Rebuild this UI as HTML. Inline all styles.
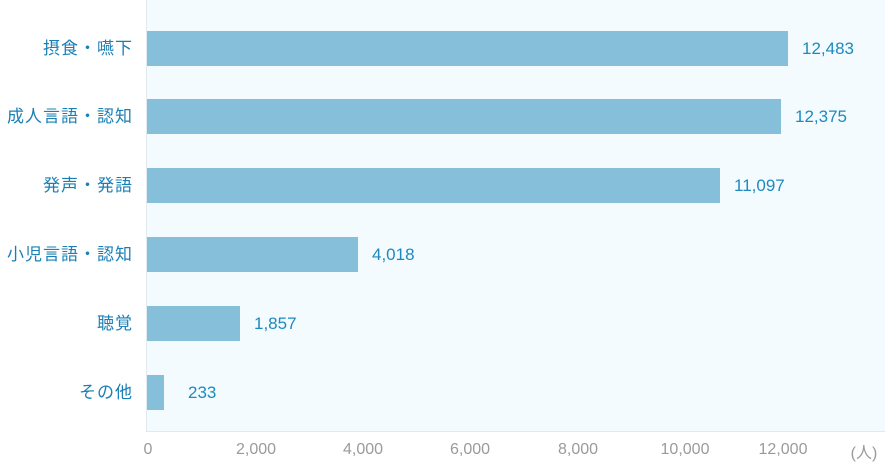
<!DOCTYPE html>
<html><head><meta charset="utf-8"><style>
body{margin:0;width:885px;height:458px;background:#fff;position:relative;overflow:hidden;font-family:"Liberation Sans","Noto Sans CJK JP",sans-serif}
.plot{position:absolute;left:146px;top:0;width:739px;height:432px;background:#f4fbfe;border-left:1px solid #e3eaee;border-bottom:1px solid #e3eaee;box-sizing:border-box}
.bar{position:absolute;left:147px;height:35px;background:#85bfda}
.v{position:absolute;font-size:17px;color:#1c8ac0;line-height:35px}
.c{position:absolute;right:752px;font-size:17px;letter-spacing:1px;color:#1a7fb5;line-height:35px;white-space:nowrap}
.t{position:absolute;top:441px;font-size:16px;color:#9a9a9a;transform:translateX(-50%);white-space:nowrap}
</style></head><body>
<div class="plot"></div>
<div class="bar" style="top:31px;width:641px"></div><div class="v" style="top:31px;left:802px">12,483</div><div class="c" style="top:31px">摂食・嚥下</div>
<div class="bar" style="top:99px;width:634px"></div><div class="v" style="top:99px;left:795px">12,375</div><div class="c" style="top:99px">成人言語・認知</div>
<div class="bar" style="top:168px;width:573px"></div><div class="v" style="top:168px;left:734px">11,097</div><div class="c" style="top:168px">発声・発語</div>
<div class="bar" style="top:237px;width:211px"></div><div class="v" style="top:237px;left:372px">4,018</div><div class="c" style="top:237px">小児言語・認知</div>
<div class="bar" style="top:306px;width:93px"></div><div class="v" style="top:306px;left:254px">1,857</div><div class="c" style="top:306px">聴覚</div>
<div class="bar" style="top:375px;width:17px"></div><div class="v" style="top:375px;left:188px">233</div><div class="c" style="top:375px">その他</div>
<div class="t" style="left:148px">0</div>
<div class="t" style="left:256px">2,000</div>
<div class="t" style="left:363px">4,000</div>
<div class="t" style="left:470px">6,000</div>
<div class="t" style="left:578px">8,000</div>
<div class="t" style="left:685px">10,000</div>
<div class="t" style="left:783px">12,000</div>
<div class="t" style="left:864px;top:439px">(人)</div>
</body></html>
